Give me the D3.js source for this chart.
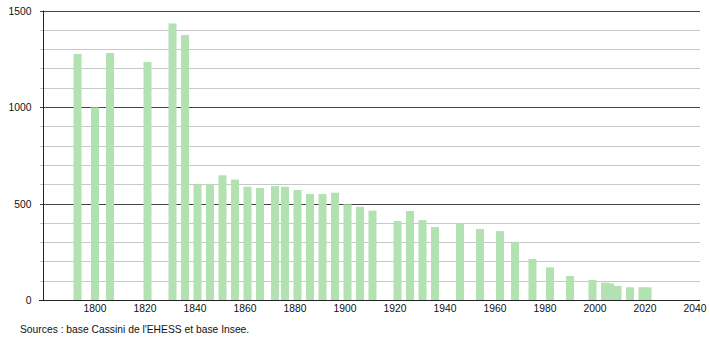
<!DOCTYPE html>
<html lang="fr">
<head>
<meta charset="UTF-8">
<title>Population</title>
<style>
  body { margin: 0; background: #fff; }
  text { font-family: "Liberation Sans", Arial, sans-serif; }
</style>
</head>
<body>
<svg width="710" height="340"></svg>
<script src="https://d3js.org/d3.v7.min.js"></script>
<script>
const years = [1793, 1800, 1806, 1821, 1831, 1836, 1841, 1846, 1851, 1856,
  1861, 1866, 1872, 1876, 1881, 1886, 1891, 1896, 1901, 1906, 1911,
  1921, 1926, 1931, 1936, 1946, 1954, 1962, 1968, 1975, 1982, 1990,
  1999, 2004, 2006, 2009, 2014, 2019, 2021];
const population = [1275, 998, 1280, 1233, 1433, 1373, 599, 599, 646, 624,
  587, 580, 590, 587, 570, 549, 549, 556, 496, 483, 463,
  409, 461, 414, 378, 397, 368, 357, 302, 212, 169, 124,
  104, 90, 86, 73, 66, 66, 66];
const xTicks = [1800, 1820, 1840, 1860, 1880, 1900, 1920, 1940, 1960, 1980, 2000, 2020, 2040];
const yLabels = [0, 500, 1000, 1500];
const source = "Sources : base Cassini de l'EHESS et base Insee.";

const svg = d3.select("svg");
const mLeft = 43, mRight = 700, mTop = 10.5, mBottom = 300;
const fs = 10.3;

// 1800 -> 95px, 2040 -> 695px
const x = d3.scaleLinear().domain([1800, 2040]).range([95, 695]);
const y = d3.scaleLinear().domain([0, 1500]).range([mBottom, mTop]);

// grid lines every 100
const grid = d3.range(100, 1501, 100);
svg.append("g").selectAll("line")
  .data(grid)
  .join("line")
    .attr("x1", mLeft - 3)
    .attr("x2", mRight)
    .attr("y1", d => Math.round(y(d)) + 0.5)
    .attr("y2", d => Math.round(y(d)) + 0.5)
    .attr("stroke", d => d % 500 === 0 ? "#444" : "#c8c8c8")
    .attr("stroke-width", 1);

// bars
const barW = 8;
svg.append("g").selectAll("rect")
  .data(years)
  .join("rect")
    .attr("x", d => x(d) - barW / 2)
    .attr("y", (d, i) => y(population[i]))
    .attr("width", barW)
    .attr("height", (d, i) => mBottom - y(population[i]))
    .attr("fill", "#b2e2b2");

// axes lines
svg.append("line")
  .attr("x1", mLeft + 0.5).attr("x2", mLeft + 0.5)
  .attr("y1", mTop).attr("y2", mBottom)
  .attr("stroke", "#222");
svg.append("line")
  .attr("x1", mLeft - 4).attr("x2", mRight)
  .attr("y1", mBottom + 0.5).attr("y2", mBottom + 0.5)
  .attr("stroke", "#222");

// y labels
svg.append("g").selectAll("text")
  .data(yLabels)
  .join("text")
    .attr("x", 31.5)
    .attr("y", d => y(d) + 4)
    .attr("text-anchor", "end")
    .attr("font-size", fs)
    .attr("fill", "#111")
    .text(d => d);

// x labels
svg.append("g").selectAll("text")
  .data(xTicks)
  .join("text")
    .attr("x", d => x(d))
    .attr("y", 311.5)
    .attr("text-anchor", "middle")
    .attr("font-size", fs)
    .attr("fill", "#111")
    .text(d => d);

svg.append("text")
  .attr("x", 20)
  .attr("y", 332.5)
  .attr("font-size", fs)
  .attr("fill", "#111")
  .text(source);
</script>
</body>
</html>
